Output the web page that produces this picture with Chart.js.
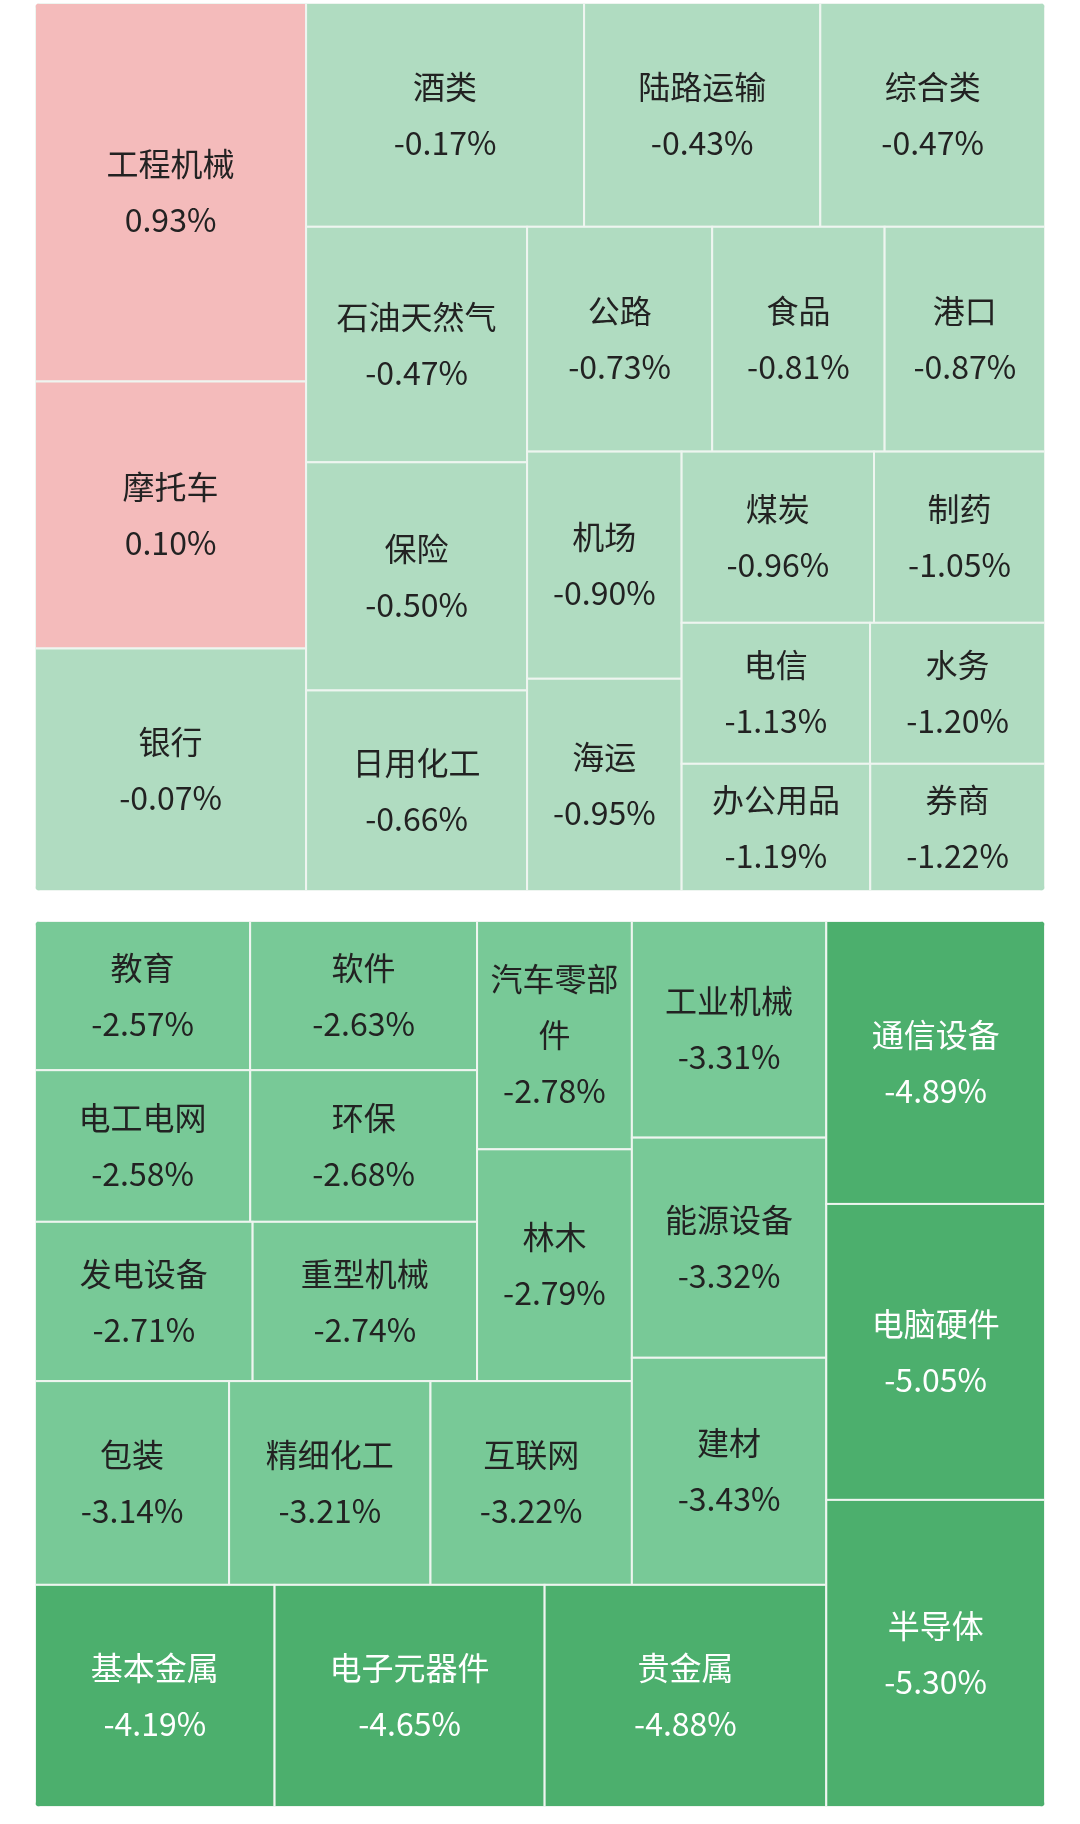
<!DOCTYPE html>
<html>
<head>
<meta charset="utf-8">
<script src="https://cdn.jsdelivr.net/npm/chart.js@4.4.1/dist/chart.umd.min.js"></script>
<style>
  body { margin: 0; background: #fff; width: 1080px; height: 1824px; position: relative; }
  .panel { position: absolute; left: 35px; width: 1010px; }
  #p1 { top: 3px; height: 888px; }
  #p2 { top: 921px; height: 886px; }
</style>
</head>
<body>
<div class="panel" id="p1"><canvas id="c1"></canvas></div>
<div class="panel" id="p2"><canvas id="c2"></canvas></div>
<script>
// top panel
const topNames = ["工程机械","摩托车","银行","酒类","陆路运输","综合类","石油天然气","保险","日用化工",
    "公路","食品","港口","机场","海运","煤炭","制药","电信","水务","办公用品","券商"];
const topChange = [0.93,0.10,-0.07,-0.17,-0.43,-0.47,-0.47,-0.50,-0.66,
    -0.73,-0.81,-0.87,-0.90,-0.95,-0.96,-1.05,-1.13,-1.20,-1.19,-1.22];
const topWeight = [75.7,53.4,48.5,45.9,39.0,37.1,38.4,37.2,32.7,
    30.7,28.6,26.6,25.9,24.2,24.3,21.6,19.6,18.2,17.7,16.4];
// nesting: "h" = side by side, "v" = stacked
const topTree = ["h", ["v", 0, 1, 2],
    ["v", ["h", 3, 4, 5],
        ["h", ["v", 6, 7, 8],
            ["v", ["h", 9, 10, 11],
                ["h", ["v", 12, 13],
                    ["v", ["h", 14, 15], ["h", 16, 17], ["h", 18, 19]]]]]]];

// bottom panel
const botNames = ["教育","软件","电工电网","环保","发电设备","重型机械","汽车零部件","林木",
    "包装","精细化工","互联网","工业机械","能源设备","建材","基本金属","电子元器件","贵金属",
    "通信设备","电脑硬件","半导体"];
const botChange = [-2.57,-2.63,-2.58,-2.68,-2.71,-2.74,-2.78,-2.79,
    -3.14,-3.21,-3.22,-3.31,-3.32,-3.43,-4.19,-4.65,-4.88,
    -4.89,-5.05,-5.30];
const botWeight = [23.7,25.0,24.1,25.4,25.6,26.4,26.1,26.5,
    29.2,30.3,30.3,31.1,31.6,32.6,39.3,44.3,46.2,
    45.7,47.8,49.6];
const botTree = ["h",
    ["v",
        ["h",
            ["v",
                ["h",
                    ["v", ["h", 0, 1], ["h", 2, 3], ["h", 4, 5]],
                    ["v", 6, 7]],
                ["h", 8, 9, 10]],
            ["v", 11, 12, 13]],
        ["h", 14, 15, 16]],
    ["v", 17, 18, 19]];

function colorFor(v) {
    if (v > 0) return "#f4bbbb";
    if (v > -2) return "#b0dcc1";
    if (v > -4) return "#78c997";
    return "#4caf6d";
}

function weightOf(node, w) {
    if (typeof node === "number") return w[node];
    return node.slice(1).reduce((s, c) => s + weightOf(c, w), 0);
}

function layout(node, w, x0, y0, x1, y1, out) {
    if (typeof node === "number") { out.push({ i: node, x0, y0, x1, y1 }); return; }
    const kids = node.slice(1);
    const total = weightOf(node, w);
    let pos = node[0] === "h" ? x0 : y0;
    kids.forEach(k => {
        const f = weightOf(k, w) / total;
        if (node[0] === "h") {
            const nx = pos + (x1 - x0) * f;
            layout(k, w, pos, y0, nx, y1, out); pos = nx;
        } else {
            const ny = pos + (y1 - y0) * f;
            layout(k, w, x0, pos, x1, ny, out); pos = ny;
        }
    });
}

function wrap(ctx, text, maxW) {
    const lines = [];
    let cur = "";
    for (const ch of text) {
        if (ctx.measureText(cur + ch).width > maxW && cur) { lines.push(cur); cur = ch; }
        else cur += ch;
    }
    lines.push(cur);
    return lines;
}

const treemapPlugin = {
    id: "treemap",
    afterDatasetsDraw(chart) {
        const { ctx, scales: { x, y } } = chart;
        const t = chart.options.plugins.treemap;
        const cells = [];
        layout(t.tree, t.weights, 0, 0, 1, 1, cells);
        ctx.save();
        ctx.beginPath();
        ctx.roundRect(x.getPixelForValue(0), y.getPixelForValue(0),
            x.getPixelForValue(1) - x.getPixelForValue(0), y.getPixelForValue(1) - y.getPixelForValue(0), 5);
        ctx.clip();
        cells.forEach(c => {
            const px0 = x.getPixelForValue(c.x0), px1 = x.getPixelForValue(c.x1);
            const py0 = y.getPixelForValue(c.y0), py1 = y.getPixelForValue(c.y1);
            const v = t.changes[c.i];
            ctx.fillStyle = colorFor(v);
            ctx.fillRect(px0, py0, px1 - px0, py1 - py0);
            ctx.strokeStyle = "#eef5f0";
            ctx.lineWidth = 2;
            ctx.strokeRect(px0, py0, px1 - px0, py1 - py0);

            ctx.fillStyle = v <= -4 ? "#ffffff" : "#222222";
            ctx.font = "32px 'Noto Sans CJK SC', 'Noto Sans', sans-serif";
            ctx.textAlign = "center";
            ctx.textBaseline = "middle";
            const lines = wrap(ctx, t.names[c.i], px1 - px0 - 8);
            lines.push(v.toFixed(2) + "%");
            const lh = 56;
            const cx = (px0 + px1) / 2, cy = (py0 + py1) / 2;
            lines.forEach((l, k) => {
                ctx.fillText(l, cx, cy + (k - (lines.length - 1) / 2) * lh);
            });
        });
        ctx.restore();
    }
};

function makeChart(id, names, changes, weights, tree) {
    new Chart(document.getElementById(id), {
        type: "scatter",
        data: { datasets: [{ data: [] }] },
        options: {
            responsive: true,
            maintainAspectRatio: false,
            animation: false,
            layout: { padding: 0 },
            scales: {
                x: { type: "linear", min: 0, max: 1, display: false },
                y: { type: "linear", min: 0, max: 1, reverse: true, display: false }
            },
            plugins: {
                legend: { display: false },
                tooltip: { enabled: false },
                treemap: { names, changes, weights, tree }
            }
        },
        plugins: [treemapPlugin]
    });
}

makeChart("c1", topNames, topChange, topWeight, topTree);
makeChart("c2", botNames, botChange, botWeight, botTree);
</script>
</body>
</html>
